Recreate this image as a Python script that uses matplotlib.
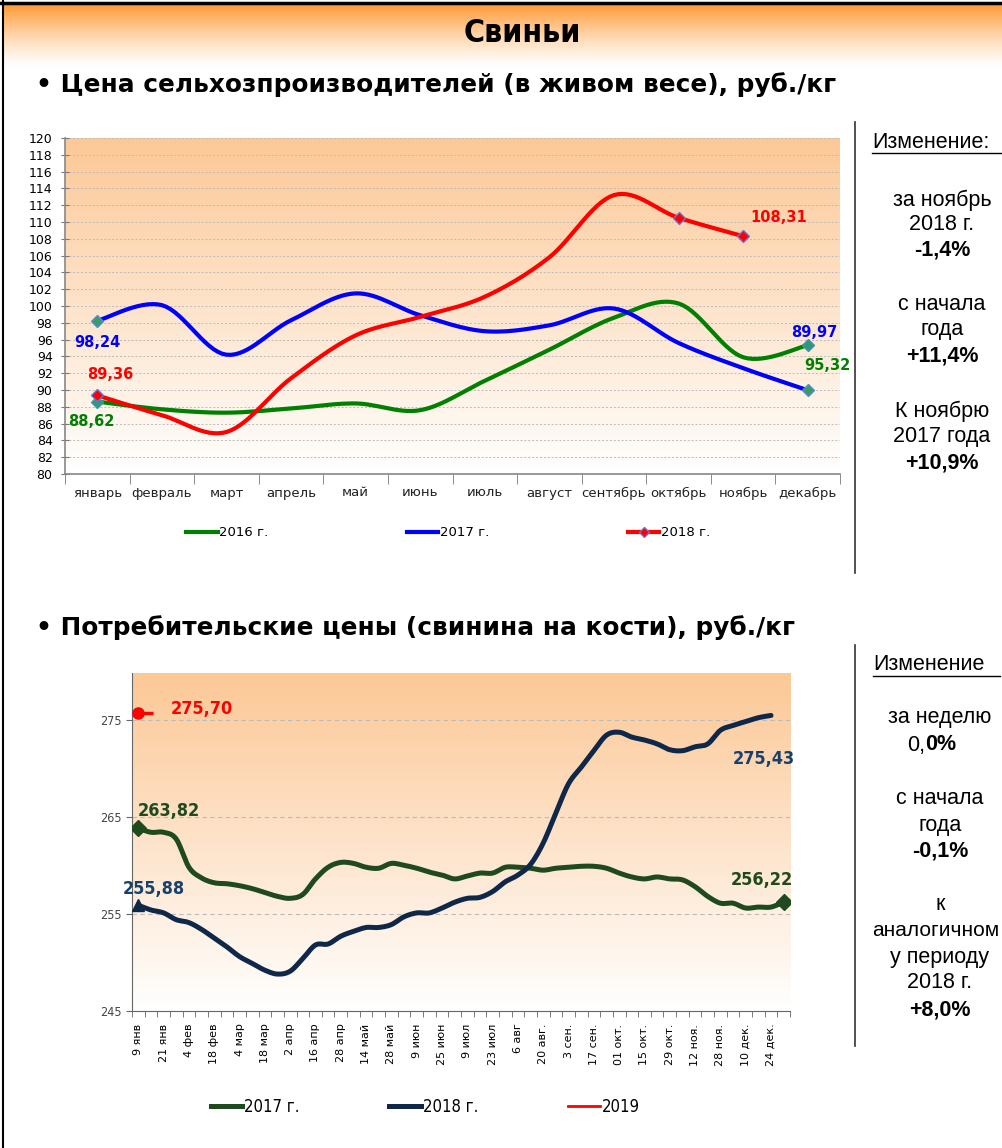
import numpy as np
import matplotlib
matplotlib.use('Agg')
import matplotlib.pyplot as plt
from matplotlib.lines import Line2D
from matplotlib.path import Path
from matplotlib import font_manager

# ---- data: producer prices (live weight), rub/kg
months = ['январь', 'февраль', 'март', 'апрель', 'май', 'июнь', 'июль',
          'август', 'сентябрь', 'октябрь', 'ноябрь', 'декабрь']
p2016 = [88.62, 87.7, 87.3, 87.8, 88.4, 87.6, 91.1, 94.8, 98.6, 100.3, 93.9, 95.32]
p2017 = [98.24, 100.1, 94.2, 98.3, 101.5, 98.9, 97.0, 97.7, 99.7, 95.6, 92.6, 89.97]
p2018 = [89.36, 87.0, 85.0, 91.4, 96.5, 98.7, 101.1, 105.8, 113.2, 110.5, 108.31]

# ---- data: consumer prices (pork on the bone), rub/kg, weekly
week_labels = ['9 янв', '21 янв', '4 фев', '18 фев', '4 мар', '18 мар', '2 апр',
               '16 апр', '28 апр', '14 май', '28 май', '9 июн', '25 июн', '9 июл',
               '23 июл', '6 авг', '20 авг.', '3 сен.', '17 сен.', '01 окт.',
               '15 окт.', '29 окт.', '12 ноя.', '28 ноя.', '10 дек.', '24 дек.']
c2017 = [263.82, 263.4, 263.4, 262.7, 259.8, 258.7, 258.2, 258.1, 257.9, 257.6,
         257.2, 256.8, 256.6, 257.0, 258.6, 259.8, 260.3, 260.2, 259.8, 259.7,
         260.2, 260.0, 259.7, 259.3, 259.0, 258.6, 258.9, 259.2, 259.2, 259.8,
         259.8, 259.7, 259.5, 259.7, 259.8, 259.9, 259.9, 259.7, 259.2, 258.8,
         258.6, 258.8, 258.6, 258.5, 257.8, 256.8, 256.1, 256.1, 255.6, 255.7,
         255.7, 256.22]
c2018 = [255.88, 255.4, 255.1, 254.4, 254.1, 253.4, 252.5, 251.6, 250.6, 249.9,
         249.2, 248.8, 249.1, 250.4, 251.8, 251.9, 252.7, 253.2, 253.6, 253.6,
         253.9, 254.7, 255.1, 255.1, 255.6, 256.2, 256.6, 256.7, 257.3, 258.3,
         259.0, 260.1, 262.3, 265.4, 268.4, 270.1, 271.8, 273.4, 273.7, 273.2,
         272.9, 272.5, 271.9, 271.8, 272.2, 272.5, 273.9, 274.4, 274.8, 275.2,
         275.43]
c2019 = [275.70]


def smooth(y, n=16):
    # Excel-like smoothed line (Catmull-Rom as cubic bezier)
    y = np.asarray(y, float)
    x = np.arange(len(y), dtype=float)
    P = np.column_stack([x, y])
    if len(P) < 3:
        return P[:, 0], P[:, 1]
    Q = np.vstack([P[0], P, P[-1]])
    out = []
    t = np.linspace(0, 1, n)[:, None]
    for i in range(1, len(Q) - 2):
        p0, p1, p2, p3 = Q[i - 1], Q[i], Q[i + 1], Q[i + 2]
        c1 = p1 + (p2 - p0) / 6
        c2 = p2 - (p3 - p1) / 6
        seg = ((1 - t) ** 3) * p1 + 3 * ((1 - t) ** 2) * t * c1 + 3 * (1 - t) * t ** 2 * c2 + t ** 3 * p2
        out.append(seg if i == 1 else seg[1:])
    out = np.vstack(out)
    return out[:, 0], out[:, 1]


def gradient_bg(ax, top=(252, 200, 150), bottom=(255, 255, 255)):
    g = np.linspace(0, 1, 256)[:, None]
    top = np.array(top) / 255
    bottom = np.array(bottom) / 255
    img = (1 - g)[:, :, None] * top + g[:, :, None] * bottom
    img = np.repeat(img, 2, axis=1)
    ax.imshow(img, extent=[0, 1, 0, 1], transform=ax.transAxes, aspect='auto', zorder=0)


# narrow face with cyrillic, if there is one
fl = font_manager.fontManager.ttflist
names = {f.name for f in fl}
if 'Liberation Sans Narrow' in names:
    narrow = dict(family=['Liberation Sans Narrow', 'DejaVu Sans'])
elif any(f.name == 'DejaVu Sans' and f.stretch == 'condensed' for f in fl):
    narrow = dict(family=['DejaVu Sans'], stretch='condensed')
else:
    narrow = dict(family=['DejaVu Sans'])

W, H = 1002, 1148
fig = plt.figure(figsize=(W / 100, H / 100), dpi=100)

def fx(px):
    return px / W

def fy(py):
    return 1 - py / H

arial = ['Liberation Sans', 'DejaVu Sans']

# ---- header band
hdr = fig.add_axes([fx(4), fy(68), 1 - fx(4), (68 - 4) / H])
g = np.linspace(0, 1, 128)[:, None]
img = (1 - g)[:, :, None] ** 1.3 * np.array([1.0, 0.6, 0.2]) + (1 - (1 - g) ** 1.3)[:, :, None] * np.array([1, 1, 1])
hdr.imshow(np.repeat(img, 2, axis=1), extent=[0, 1, 0, 1], aspect='auto')
hdr.axis('off')
fig.add_artist(Line2D([fx(0), 1], [fy(3), fy(3)], color='black', lw=2.5))
fig.add_artist(Line2D([fx(3), fx(3)], [0, 1], color='black', lw=1.5))

fig.text(fx(522), fy(33), 'Свиньи', ha='center', va='center', fontsize=23, fontweight='bold', **narrow)
fig.text(fx(36), fy(85), '• Цена сельхозпроизводителей (в живом весе), руб./кг',
         ha='left', va='center', fontsize=17.8, fontweight='bold')
fig.text(fx(36), fy(628), '• Потребительские цены (свинина на кости), руб./кг',
         ha='left', va='center', fontsize=17.8, fontweight='bold')

# ---- top chart
ax1 = fig.add_axes([fx(65), fy(474), (840 - 65) / W, (474 - 138) / H])
gradient_bg(ax1)
ax1.set_xlim(-0.5, 11.5)
ax1.set_ylim(80, 120)
for y, col in [(p2016, '#008000'), (p2017, '#0000ff'), (p2018, '#ff0000')]:
    xs, ys = smooth(y)
    ax1.plot(xs, ys, color=col, lw=3, solid_capstyle='round', zorder=3)

ax1.plot([0, 11], [p2016[0], p2016[11]], ls='none', marker='D', ms=6, mfc='#2a9a7a', mec='#4a8fb0', zorder=4)
ax1.plot([0, 11], [p2017[0], p2017[11]], ls='none', marker='D', ms=6, mfc='#3c9a6a', mec='#5a8ad0', zorder=4)
ax1.plot([0, 9, 10], [p2018[0], p2018[9], p2018[10]], ls='none', marker='D', ms=6, mfc='#ff0000', mec='#7070d0', zorder=4)

lab = dict(fontsize=10.5, fontweight='bold', ha='center', va='center', zorder=5)
ax1.text(0, 95.7, '98,24', color='#0000ff', **lab)
ax1.text(0.2, 91.8, '89,36', color='#ff0000', **lab)
ax1.text(-0.1, 86.3, '88,62', color='#008000', **lab)
ax1.text(10.55, 110.5, '108,31', color='#ff0000', **lab)
ax1.text(11.1, 96.8, '89,97', color='#0000ff', **lab)
ax1.text(11.3, 92.9, '95,32', color='#008000', **lab)

ax1.set_yticks(np.arange(80, 121, 2))
ax1.tick_params(axis='y', labelsize=9, direction='inout', length=6, color='#777777', pad=6)
ax1.set_xticks(range(12))
ax1.set_xticklabels(months)
ax1.set_xticks(np.arange(-0.5, 12, 1), minor=True)
ax1.tick_params(axis='x', which='major', length=0, labelsize=9.5, pad=9, labelcolor='#222222')
ax1.tick_params(axis='x', which='minor', length=7, direction='out', color='#777777')
ax1.grid(axis='y', color='#bbbbbb', ls=(0, (2, 2)), lw=0.7)
for s in ['top', 'right']:
    ax1.spines[s].set_visible(False)
for s in ['left', 'bottom']:
    ax1.spines[s].set_color('#888888')
    ax1.spines[s].set_linewidth(1.2)
ax1.set_axisbelow(True)

h1 = [Line2D([], [], color='#008000', lw=3),
      Line2D([], [], color='#0000ff', lw=3),
      Line2D([], [], color='#ff0000', lw=3, marker='D', ms=5, mfc='#ff0000', mec='#7070d0')]
ax1.legend(h1, ['2016 г.', '2017 г.', '2018 г.'], loc='center', ncol=3,
           bbox_to_anchor=(fx(448), fy(533)), bbox_transform=fig.transFigure,
           frameon=False, fontsize=9.5, handlelength=2.4, handletextpad=0.1,
           columnspacing=10.5)

# ---- bottom chart
ax2 = fig.add_axes([fx(132), fy(1011), (790 - 132) / W, (1011 - 673) / H])
gradient_bg(ax2)
n = len(c2017)
ax2.set_xlim(-0.5, n - 0.5)
ax2.set_ylim(245, 279.8)
xs, ys = smooth(c2017, 8)
ax2.plot(xs, ys, color='#1f4a1f', lw=3.6, solid_capstyle='round', zorder=3)
xs, ys = smooth(c2018, 8)
ax2.plot(xs, ys, color='#0f2748', lw=3.6, solid_capstyle='round', zorder=3)
ax2.plot([0, n - 1], [c2017[0], c2017[-1]], ls='none', marker='D', ms=8, color='#1f4a1f', zorder=4)
ax2.plot([0], [c2018[0]], ls='none', marker='^', ms=9, color='#0f2748', zorder=4)
stub = Path([(0, 0), (1, 0)], [Path.MOVETO, Path.LINETO])
ax2.plot([0], c2019, ls='none', marker=stub, ms=22, mew=2.5, color='#ff0000', zorder=4)
ax2.plot([0], c2019, ls='none', marker='o', ms=8, color='#ff0000', zorder=5)

lab2 = dict(fontsize=13, fontweight='bold', ha='center', va='center', zorder=5, **narrow)
ax2.text(5.0, 276.1, '275,70', color='#ff0000', **lab2)
ax2.text(2.4, 265.6, '263,82', color='#1f4a1f', **lab2)
ax2.text(1.2, 257.6, '255,88', color='#17406d', **lab2)
ax2.text(49.4, 270.9, '275,43', color='#17406d', **lab2)
ax2.text(49.3, 258.5, '256,22', color='#1f4a1f', **lab2)

ax2.set_yticks([245, 255, 265, 275])
ax2.set_yticklabels(['245', '255', '265', '275'], fontsize=9, color='#444444', **narrow)
ax2.tick_params(axis='y', length=4, direction='out', color='#666666')
ax2.set_xticks(np.arange(0, n - 1, 2))
ax2.set_xticklabels(week_labels, rotation=90, fontsize=8)
ax2.set_xticks(np.arange(-0.5, n, 1), minor=True)
ax2.tick_params(axis='x', which='major', length=0, pad=9)
ax2.tick_params(axis='x', which='minor', length=4, direction='out', color='#666666')
ax2.grid(axis='y', color='#bbbbbb', ls=(0, (4, 3)), lw=0.8)
for s in ['top', 'right']:
    ax2.spines[s].set_visible(False)
for s in ['left', 'bottom']:
    ax2.spines[s].set_color('#666666')
ax2.set_axisbelow(True)

h2 = [Line2D([], [], color='#1f4a1f', lw=3.6),
      Line2D([], [], color='#0f2748', lw=3.6),
      Line2D([], [], color='#ff0000', lw=2)]
ax2.legend(h2, ['2017 г.', '2018 г.', '2019'], loc='center', ncol=3,
           bbox_to_anchor=(fx(425), fy(1107)), bbox_transform=fig.transFigure,
           frameon=False, handlelength=1.9, handletextpad=0.1, columnspacing=5.4,
           prop=dict(size=12, **narrow))

# ---- right side panels
fig.add_artist(Line2D([fx(855), fx(855)], [fy(122), fy(573)], color='#333333', lw=1.2))
fig.add_artist(Line2D([fx(855), fx(855)], [fy(645), fy(1046)], color='#333333', lw=1.2))

fs = 15.5
rt = dict(ha='center', va='center', fontsize=fs, family=arial)
fig.text(fx(872), fy(142), 'Изменение:', ha='left', va='center', fontsize=fs, family=arial)
fig.add_artist(Line2D([fx(872), 1], [fy(153), fy(153)], color='black', lw=1))
for txt, y, b in [('за ноябрь', 200, False), ('2018 г.', 224, False), ('-1,4%', 250, True),
                  ('с начала', 305, False), ('года', 330, False), ('+11,4%', 356, True),
                  ('К ноябрю', 411, False), ('2017 года', 437, False), ('+10,9%', 463, True)]:
    fig.text(fx(942), fy(y), txt, fontweight='bold' if b else 'normal', **rt)

fig.text(fx(873), fy(665), 'Изменение', ha='left', va='center', fontsize=fs, family=arial)
fig.add_artist(Line2D([fx(873), fx(1000)], [fy(676), fy(676)], color='black', lw=1))
for txt, y, b in [('за неделю', 718, False),
                  ('с начала', 798, False), ('года', 825, False), ('-0,1%', 851, True),
                  ('к', 905, False), ('у периоду', 957, False),
                  ('2018 г.', 983, False), ('+8,0%', 1010, True)]:
    fig.text(fx(940), fy(y), txt, fontweight='bold' if b else 'normal', **rt)
fig.text(fx(936), fy(931), 'аналогичном', ha='center', va='center', fontsize=15, family=arial)
fig.text(fx(925), fy(745), '0,', ha='right', va='center', fontsize=fs, family=arial)
fig.text(fx(925), fy(745), '0%', ha='left', va='center', fontsize=fs, family=arial, fontweight='bold')

fig.savefig('out.png', dpi=100)
